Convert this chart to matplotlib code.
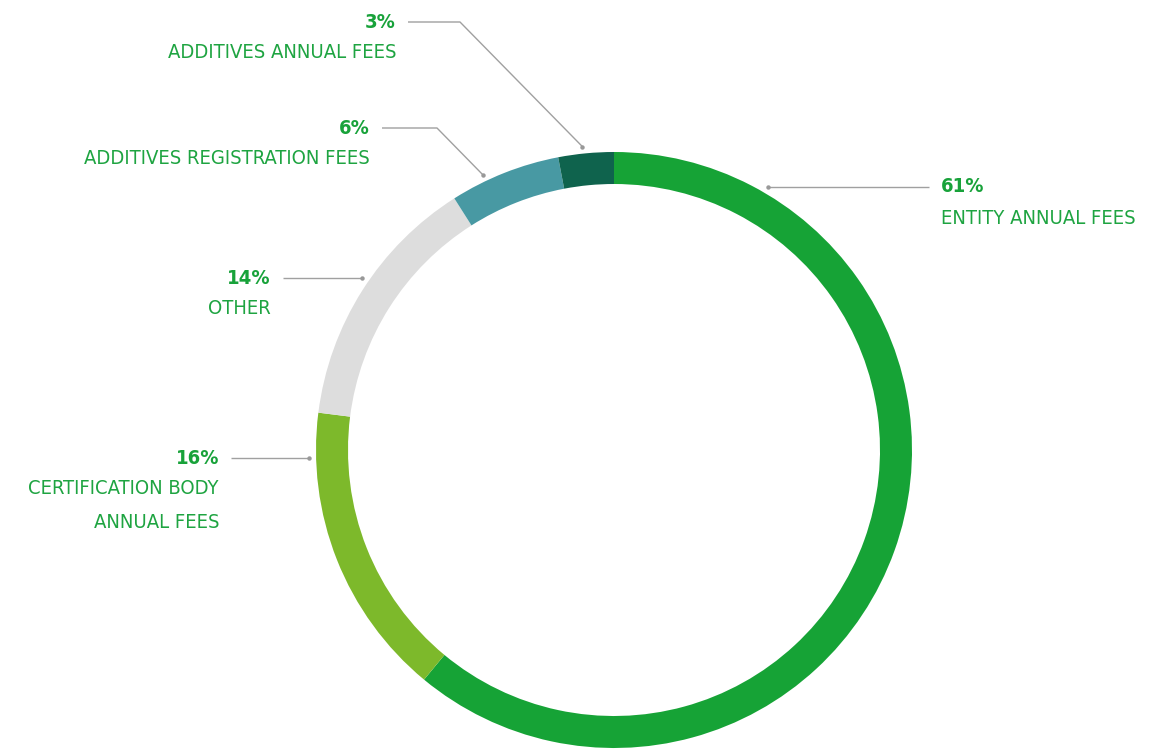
import numpy as np
import matplotlib.pyplot as plt

# ---- data ----
categories = ["ENTITY ANNUAL FEES", "CERTIFICATION BODY\nANNUAL FEES", "OTHER",
              "ADDITIVES REGISTRATION FEES", "ADDITIVES ANNUAL FEES"]
values = [61, 16, 14, 6, 3]
colors = ["#16a336", "#7db92b", "#dddddd", "#4899a3", "#0f634d"]

# ---- layout (pixel coords, y measured from top) ----
W, H = 1166, 749
cx, cy = 614, 450
R, ring = 298, 32
anchor_frac = [0.138, 0.85, 0.54, 0.32, 0.45]   # where the leader dot sits inside each wedge
dot_r = 305
# percent text anchor (x, y), side, elbow point
label_pos = [(941, 187, 'left', None),
             (219, 458, 'right', None),
             (271, 278, 'right', None),
             (370, 128, 'right', (437, 128)),
             (396, 22, 'right', (460, 22))]
line_gap = 32

text_green = "#1ea441"
pct_green = "#18a23a"
line_grey = "#a0a0a0"

fig = plt.figure(figsize=(W / 100, H / 100), dpi=100)
ax = fig.add_axes([0, 0, 1, 1])

ax.pie(values, startangle=90, counterclock=False, radius=R, center=(cx, H - cy),
       colors=colors, wedgeprops=dict(width=ring, edgecolor='none', linewidth=0))
ax.set_xlim(0, W)
ax.set_ylim(0, H)
ax.set_aspect('equal')
ax.axis('off')

total = sum(values)
cum = 0
fam = ['DejaVu Sans']
fs = 14.5
for i, v in enumerate(values):
    frac_pos = (cum + v * anchor_frac[i]) / total
    cum += v
    ang = np.deg2rad(90 - 360 * frac_pos)
    dx = cx + dot_r * np.cos(ang)
    dy = (H - cy) + dot_r * np.sin(ang)
    tx, ty, side, elbow = label_pos[i]
    ty_d = H - ty
    if side == 'left':
        xs = [dx, tx - 12]
        ys = [dy, dy]
    else:
        if elbow is not None:
            xs = [tx + 12, elbow[0], dx]
            ys = [ty_d, H - elbow[1], dy]
        else:
            xs = [tx + 12, dx]
            ys = [dy, dy]
    ax.plot(xs, ys, color=line_grey, lw=1, solid_capstyle='butt')
    ax.plot([dx], [dy], 'o', color="#999999", ms=3.2, mec='none')
    ax.text(tx, ty_d, f"{v}%", ha=side, va='center', fontsize=fs, fontweight='bold',
            color=pct_green, family=fam, fontstretch='condensed')
    for j, line in enumerate(categories[i].split("\n")):
        ax.text(tx, ty_d - line_gap * (j + 1) + (1 if j == 0 else 0), line, ha=side, va='center',
                fontsize=fs, color=text_green, family=fam, fontstretch='condensed')

fig.savefig("out.png", dpi=100, facecolor='white')
